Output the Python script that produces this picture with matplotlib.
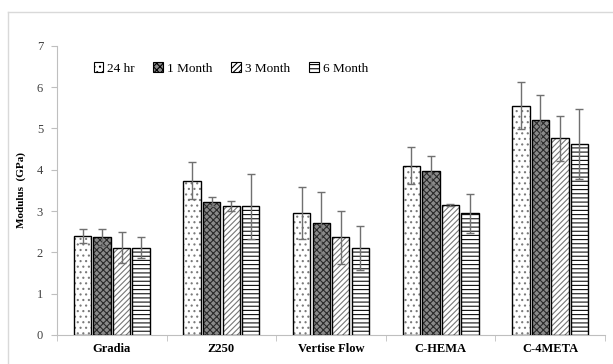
import matplotlib

matplotlib.use("Agg")
import matplotlib.pyplot as plt
import numpy as np
from matplotlib.lines import Line2D

# data
materials = ["Gradia", "Z250", "Vertise Flow", "C-HEMA", "C-4META"]
series = ["24 hr", "1 Month", "3 Month", "6 Month"]
modulus_24hr = [2.40, 3.73, 2.96, 4.10, 5.55]
modulus_1m = [2.36, 3.23, 2.72, 3.98, 5.21]
modulus_3m = [2.11, 3.13, 2.36, 3.15, 4.76]
modulus_6m = [2.11, 3.11, 2.11, 2.94, 4.62]
err_24hr = [0.17, 0.45, 0.63, 0.44, 0.57]
err_1m = [0.20, 0.12, 0.75, 0.36, 0.60]
err_3m = [0.37, 0.12, 0.65, 0.03, 0.54]
err_6m = [0.25, 0.78, 0.53, 0.48, 0.84]

values = [modulus_24hr, modulus_1m, modulus_3m, modulus_6m]
errors = [err_24hr, err_1m, err_3m, err_6m]
styles = [
    {"facecolor": "white", "hatch": "...", "hatchcolor": "#7a7a7a"},
    {"facecolor": "#8a8a8a", "hatch": "xxxxx", "hatchcolor": "#2a2a2a"},
    {"facecolor": "white", "hatch": "//////", "hatchcolor": "#777777"},
    {"facecolor": "white", "hatch": "----", "hatchcolor": "#111111"},
]

plt.rcParams["font.family"] = ["Liberation Serif", "DejaVu Serif"]
plt.rcParams["hatch.linewidth"] = 0.8

fig = plt.figure(figsize=(6.13, 3.64), dpi=100)
ax = fig.add_axes([0.093, 0.080, 0.894, 0.794])

# light gray chart frame
fig.add_artist(Line2D([0.013, 1.0], [0.967, 0.967], color="#d9d9d9", lw=1))
fig.add_artist(Line2D([0.013, 0.013], [0.0, 0.967], color="#d9d9d9", lw=1))

x = np.arange(len(materials))
width = 0.158
step = 0.178

handles = []
for i, (vals, errs, st) in enumerate(zip(values, errors, styles)):
    pos = x + (i - 1.5) * step
    ax.bar(pos, vals, width, color=st["facecolor"], hatch=st["hatch"],
           edgecolor=st["hatchcolor"], linewidth=0, zorder=2)
    ax.bar(pos, vals, width, fill=False, edgecolor="black", linewidth=1.0, zorder=3)
    ax.errorbar(pos, vals, yerr=errs, fmt="none", ecolor="#707070",
                elinewidth=1.0, capsize=3, capthick=1.0, zorder=4)
    h = ax.bar([np.nan], [np.nan], width, color=st["facecolor"], hatch=st["hatch"],
               edgecolor="black", linewidth=0.8)
    handles.append(h)

ax.set_xlim(-0.5, len(materials) - 0.5)
ax.set_ylim(0, 7)
ax.set_yticks(range(0, 8))
ax.set_xticks(x)
ax.set_xticklabels(materials, fontweight="bold", fontsize=9)
ax.set_xticks(np.arange(-0.5, len(materials)), minor=True)
ax.tick_params(axis="x", which="major", length=0, pad=6)
ax.tick_params(axis="x", which="minor", length=4, color="#bfbfbf", direction="out")
ax.tick_params(axis="y", length=4, color="#bfbfbf", labelsize=9, labelcolor="#404040", pad=6)

for side in ["top", "right"]:
    ax.spines[side].set_visible(False)
ax.spines["left"].set_color("#bfbfbf")
ax.spines["bottom"].set_color("#bfbfbf")

ax.set_ylabel("Modulus  (GPa)", fontweight="bold", fontsize=8, labelpad=8)

ax.legend(handles, series, loc="upper left", bbox_to_anchor=(0.045, 0.985), ncol=4,
          frameon=False, fontsize=9.5, handlelength=0.75, handleheight=0.75,
          handletextpad=0.3, columnspacing=1.4)

plt.savefig("out.png", dpi=100)
plt.close()
